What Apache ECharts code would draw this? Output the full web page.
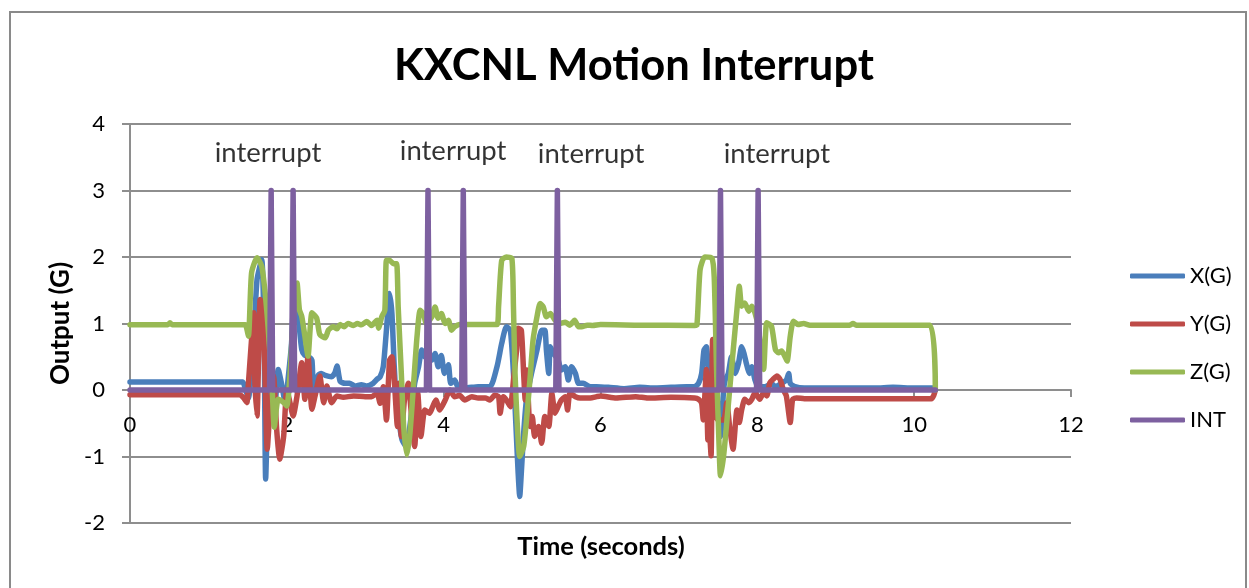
<!DOCTYPE html>
<html>
<head>
<meta charset="utf-8">
<script src="https://cdn.jsdelivr.net/npm/echarts@6/dist/echarts.min.js"></script>
<style>
html,body{margin:0;padding:0;background:#fff;}
#chart{width:1249px;height:588px;}
</style>
</head>
<body>
<div id="chart"></div>
<script>
// ---- data: [time (s), value (G)] ----
var xG = [[0,0.12],[1.40,0.12],[1.44,0.12],[1.47,0.02],[1.51,-0.12],[1.55,0.3],[1.58,0.81],[1.62,1.66],[1.68,1.96],[1.71,0.81],[1.73,-1.34],[1.76,-0.29],[1.81,0.06],[1.85,-0.19],[1.89,0.31],[1.93,0.11],[1.98,-0.19],[2.02,0.21],[2.06,0.7],[2.10,1.56],[2.15,1.06],[2.19,0.61],[2.23,0.52],[2.28,0.5],[2.32,0.45],[2.34,0.05],[2.40,0.22],[2.44,0.25],[2.49,0.22],[2.57,0.2],[2.61,0.25],[2.64,0.36],[2.68,0.13],[2.74,0.1],[2.80,0.1],[2.87,0.06],[2.95,0.08],[3.02,0.06],[3.10,0.1],[3.15,0.16],[3.19,0.2],[3.23,0.35],[3.27,0.9],[3.31,1.45],[3.34,1.15],[3.37,0.35],[3.40,-0.2],[3.44,-0.55],[3.47,-0.75],[3.52,-0.85],[3.55,-0.7],[3.59,-0.35],[3.63,0.1],[3.68,0.35],[3.72,0.6],[3.76,0.5],[3.85,0.45],[3.89,0.55],[3.93,0.35],[3.97,0.52],[4.01,0.25],[4.06,0.38],[4.09,0.1],[4.14,0.15],[4.19,0.03],[4.27,0.03],[4.44,0.05],[4.59,0.05],[4.68,0.35],[4.74,0.7],[4.80,0.95],[4.85,0.9],[4.89,0.25],[4.92,-0.5],[4.95,-1.25],[4.97,-1.6],[4.99,-1.25],[5.02,-0.65],[5.06,-0.1],[5.12,0.25],[5.19,0.6],[5.25,0.9],[5.29,0.9],[5.31,0.6],[5.34,0.25],[5.36,0.65],[5.40,0.55],[5.46,0.45],[5.50,0.3],[5.55,0.35],[5.59,0.15],[5.63,0.35],[5.68,0.25],[5.72,0.1],[5.78,0.1],[5.87,0.05],[5.95,0.05],[6.1,0.04],[6.3,0.02],[6.5,0.04],[6.7,0.03],[6.9,0.04],[7.1,0.05],[7.2,0.05],[7.25,0.1],[7.29,0.25],[7.32,0.6],[7.35,0.65],[7.38,0.25],[7.41,0.5],[7.44,0.05],[7.48,-0.05],[7.53,-0.7],[7.57,0.0],[7.59,0.15],[7.63,0.25],[7.67,0.5],[7.72,0.25],[7.76,0.4],[7.80,0.65],[7.83,0.55],[7.86,0.4],[7.90,0.25],[7.93,0.35],[7.97,0.15],[8.01,0.05],[8.10,0.05],[8.18,0.1],[8.23,0.05],[8.31,0.1],[8.37,0.15],[8.40,0.25],[8.42,0.1],[8.48,0.05],[8.6,0.03],[9.0,0.03],[9.5,0.03],[9.73,0.04],[10.0,0.03],[10.25,0.03],[10.27,0.0]];

var yG = [[0,-0.07],[1.40,-0.07],[1.45,-0.12],[1.49,-0.19],[1.51,0.1],[1.55,0.76],[1.58,1.16],[1.59,0.21],[1.62,-0.39],[1.64,0.5],[1.66,1.36],[1.69,1.31],[1.72,0.31],[1.75,-0.89],[1.79,-0.19],[1.83,0.21],[1.87,-0.59],[1.91,-1.04],[1.96,-0.69],[2.00,0.01],[2.04,-0.19],[2.08,-0.39],[2.13,-0.09],[2.19,0.41],[2.23,-0.14],[2.27,0.51],[2.32,-0.29],[2.36,-0.09],[2.42,0.21],[2.47,-0.19],[2.51,0.06],[2.57,-0.19],[2.64,-0.09],[2.72,-0.11],[2.85,-0.09],[3.0,-0.1],[3.08,-0.1],[3.15,-0.05],[3.19,-0.2],[3.23,0.05],[3.27,-0.45],[3.31,0.45],[3.34,0.5],[3.37,0.15],[3.41,-0.55],[3.43,0.1],[3.46,-0.7],[3.50,-0.15],[3.55,0.1],[3.58,-0.25],[3.63,-0.85],[3.67,-0.05],[3.71,-0.7],[3.76,-0.3],[3.82,-0.35],[3.86,-0.25],[3.90,-0.15],[3.95,-0.3],[4.02,-0.15],[4.08,0],[4.14,-0.1],[4.20,-0.08],[4.27,-0.15],[4.36,-0.1],[4.44,-0.12],[4.53,-0.12],[4.59,-0.15],[4.65,-0.08],[4.70,-0.1],[4.72,-0.35],[4.76,-0.1],[4.80,-0.15],[4.85,-0.25],[4.89,0.15],[4.93,0.6],[4.95,0.93],[4.99,0.9],[5.02,0.25],[5.04,-0.15],[5.06,0.3],[5.10,-0.55],[5.13,-0.4],[5.16,-0.7],[5.21,-0.55],[5.25,-0.8],[5.29,-0.4],[5.34,-0.55],[5.38,-0.05],[5.42,-0.35],[5.46,-0.25],[5.50,-0.15],[5.55,-0.1],[5.58,-0.3],[5.61,-0.05],[5.68,-0.1],[5.74,-0.12],[5.87,-0.12],[5.95,-0.1],[6.0,-0.09],[6.2,-0.12],[6.45,-0.1],[6.6,-0.12],[6.9,-0.11],[7.2,-0.12],[7.25,-0.14],[7.29,-0.2],[7.31,-0.45],[7.33,-0.1],[7.35,0.31],[7.37,-0.75],[7.39,-0.69],[7.41,-0.99],[7.43,0.76],[7.46,-0.35],[7.50,-0.45],[7.57,-0.45],[7.61,-0.19],[7.65,-0.59],[7.69,-0.89],[7.74,-0.3],[7.77,-0.49],[7.80,-0.3],[7.84,-0.14],[7.89,-0.19],[7.93,-0.14],[7.97,-0.04],[8.03,-0.14],[8.08,-0.04],[8.12,-0.09],[8.16,0.11],[8.20,0.16],[8.25,0.21],[8.29,0.16],[8.33,0.01],[8.37,-0.09],[8.42,-0.49],[8.45,-0.14],[8.50,-0.12],[8.6,-0.13],[9.0,-0.13],[9.5,-0.13],[10.0,-0.13],[10.22,-0.13],[10.25,-0.08],[10.27,0.0]];

var zG = [[0,0.98],[0.48,0.98],[0.51,1.01],[0.54,0.98],[1.40,0.98],[1.47,0.98],[1.51,0.81],[1.55,1.76],[1.62,1.99],[1.68,1.86],[1.72,1.5],[1.76,0.96],[1.81,0.11],[1.84,-0.56],[1.89,-0.14],[1.96,-0.19],[2.00,-0.24],[2.04,0.21],[2.08,1.06],[2.13,1.61],[2.16,1.21],[2.19,1.11],[2.23,0.81],[2.27,0.51],[2.32,1.16],[2.38,1.085],[2.42,0.835],[2.49,0.785],[2.53,0.9],[2.59,0.95],[2.64,0.92],[2.68,0.985],[2.73,0.95],[2.78,1.0],[2.85,0.97],[2.9,1.0],[2.95,0.98],[3.02,1.03],[3.08,0.97],[3.15,1.05],[3.17,0.93],[3.21,1.1],[3.25,1.2],[3.27,1.95],[3.31,1.95],[3.36,1.9],[3.40,1.9],[3.42,1.25],[3.46,0.25],[3.49,-0.55],[3.53,-0.975],[3.57,-0.65],[3.62,0.15],[3.66,0.8],[3.70,1.2],[3.74,1.15],[3.78,1.0],[3.85,1.1],[3.89,1.25],[3.93,1.08],[3.97,1.15],[4.02,1.0],[4.06,1.05],[4.10,0.9],[4.14,0.95],[4.20,0.985],[4.4,0.985],[4.68,0.985],[4.70,1.25],[4.74,1.95],[4.80,2.0],[4.87,1.975],[4.89,1.25],[4.91,0.25],[4.94,-0.55],[4.97,-1.0],[5.02,-0.85],[5.06,-0.4],[5.10,0.15],[5.14,0.75],[5.19,1.1],[5.23,1.3],[5.27,1.25],[5.31,1.1],[5.36,1.15],[5.42,1.05],[5.48,1.0],[5.55,1.02],[5.61,0.975],[5.67,1.05],[5.72,0.95],[5.76,0.95],[5.83,0.975],[5.9,0.97],[6.0,0.985],[6.5,0.975],[7.20,0.97],[7.23,0.98],[7.27,1.81],[7.33,2.0],[7.42,1.985],[7.45,1.7],[7.48,0.31],[7.515,-0.94],[7.53,-1.29],[7.57,-0.99],[7.61,-0.49],[7.67,0.31],[7.74,1.21],[7.77,1.56],[7.80,1.26],[7.84,1.31],[7.89,1.185],[7.93,1.26],[7.97,1.16],[8.01,0.96],[8.05,0.55],[8.08,0.31],[8.12,1.01],[8.18,0.96],[8.23,0.61],[8.27,0.56],[8.31,0.585],[8.35,0.51],[8.38,0.435],[8.42,0.81],[8.46,1.035],[8.52,0.985],[8.59,1.0],[8.67,0.975],[8.8,0.975],[9.18,0.975],[9.22,1.0],[9.26,0.975],[10.20,0.975],[10.27,0.0]];

var intG = [[0,0],[1.78,0],[1.80,3],[1.82,0],[2.06,0],[2.08,3],[2.10,0],[3.78,0],[3.80,3],[3.82,0],[4.23,0],[4.25,3],[4.27,0],[5.43,0],[5.45,3],[5.47,0],[7.51,0],[7.53,3],[7.55,0],[7.99,0],[8.01,3],[8.03,0],[10.27,0]];

var seriesNames = ['X(G)','Y(G)','Z(G)','INT'];
var seriesColors = ['#4A7EBB','#BE4B48','#98B954','#7D60A0'];
var noteText = 'interrupt';
var notes = [[1.76,3.56],[4.12,3.59],[5.88,3.55],[8.25,3.55]];
var xTicks = {min:0, max:12, step:2};
var yTicks = {min:-2, max:4, step:1};

var FONT = 'Lato';
var gridBox = {left:130, top:124, width:941, height:399};
// x axis crosses the y axis at value 0
var xAxisOffset = -gridBox.height * (0 - yTicks.min) / (yTicks.max - yTicks.min);

var chart = echarts.init(document.getElementById('chart'), null, {renderer:'canvas'});

function lineSeries(i, data, smooth){
  return {
    name: seriesNames[i], type:'line', data:data, showSymbol:false, symbol:'none',
    smooth: smooth, animation:false, z: 2+i,
    lineStyle:{color:seriesColors[i], width:5.5, cap:'round', join:'round'},
    itemStyle:{color:seriesColors[i]}
  };
}

var gridColor = '#8E8E8E';
chart.setOption({
  animation:false,
  title:{text:'KXCNL Motion Interrupt', left:629, textAlign:'center', top:39,
    textStyle:{fontFamily:FONT, fontWeight:'bold', fontSize:43.5, color:'#000'}},
  legend:{data:seriesNames, orient:'vertical', left:1125, top:259, itemWidth:55, itemHeight:5,
    icon:'roundRect', itemGap:24,
    textStyle:{fontFamily:FONT, fontSize:22, color:'#000', lineHeight:24}},
  grid:{left:gridBox.left, top:gridBox.top, width:gridBox.width, height:gridBox.height, containLabel:false},
  xAxis:{type:'value', min:xTicks.min, max:xTicks.max, interval:xTicks.step, position:'bottom', offset:xAxisOffset,
    axisLine:{onZero:false, lineStyle:{color:gridColor, width:2}},
    axisTick:{show:true, inside:false, length:7, lineStyle:{color:gridColor, width:2}},
    axisLabel:{margin:24, fontFamily:FONT, fontSize:22, color:'#000'},
    splitLine:{show:false}},
  yAxis:{type:'value', min:yTicks.min, max:yTicks.max, interval:yTicks.step,
    name:'Output (G)', nameLocation:'middle', nameGap:56,
    nameTextStyle:{fontFamily:FONT, fontWeight:'bold', fontSize:26, color:'#000'},
    axisLine:{show:true, onZero:false, lineStyle:{color:gridColor, width:2}},
    axisTick:{show:true, length:8, lineStyle:{color:gridColor, width:2}},
    axisLabel:{margin:25, fontFamily:FONT, fontSize:22, color:'#000'},
    splitLine:{show:true, lineStyle:{color:gridColor, width:2}}},
  graphic:[
    {type:'rect', silent:true, z:-10, shape:{x:10, y:12, width:1236, height:620},
      style:{fill:'none', stroke:'#8A8A8A', lineWidth:2}},
    {type:'text', silent:true, x:601, y:547,
      style:{text:'Time (seconds)', fontFamily:FONT, fontWeight:'bold', fontSize:25.5, fill:'#000', align:'center', verticalAlign:'middle'}}
  ],
  series:[
    lineSeries(0, xG, 0.2),
    lineSeries(1, yG, 0.2),
    lineSeries(2, zG, 0.2),
    lineSeries(3, intG, false),
    {name:'notes', type:'scatter', data:notes, symbolSize:0, silent:true, z:10,
      label:{show:true, position:'inside', formatter:noteText, fontFamily:FONT, fontSize:27.5, color:'#000'}}
  ]
});
</script>
</body>
</html>
